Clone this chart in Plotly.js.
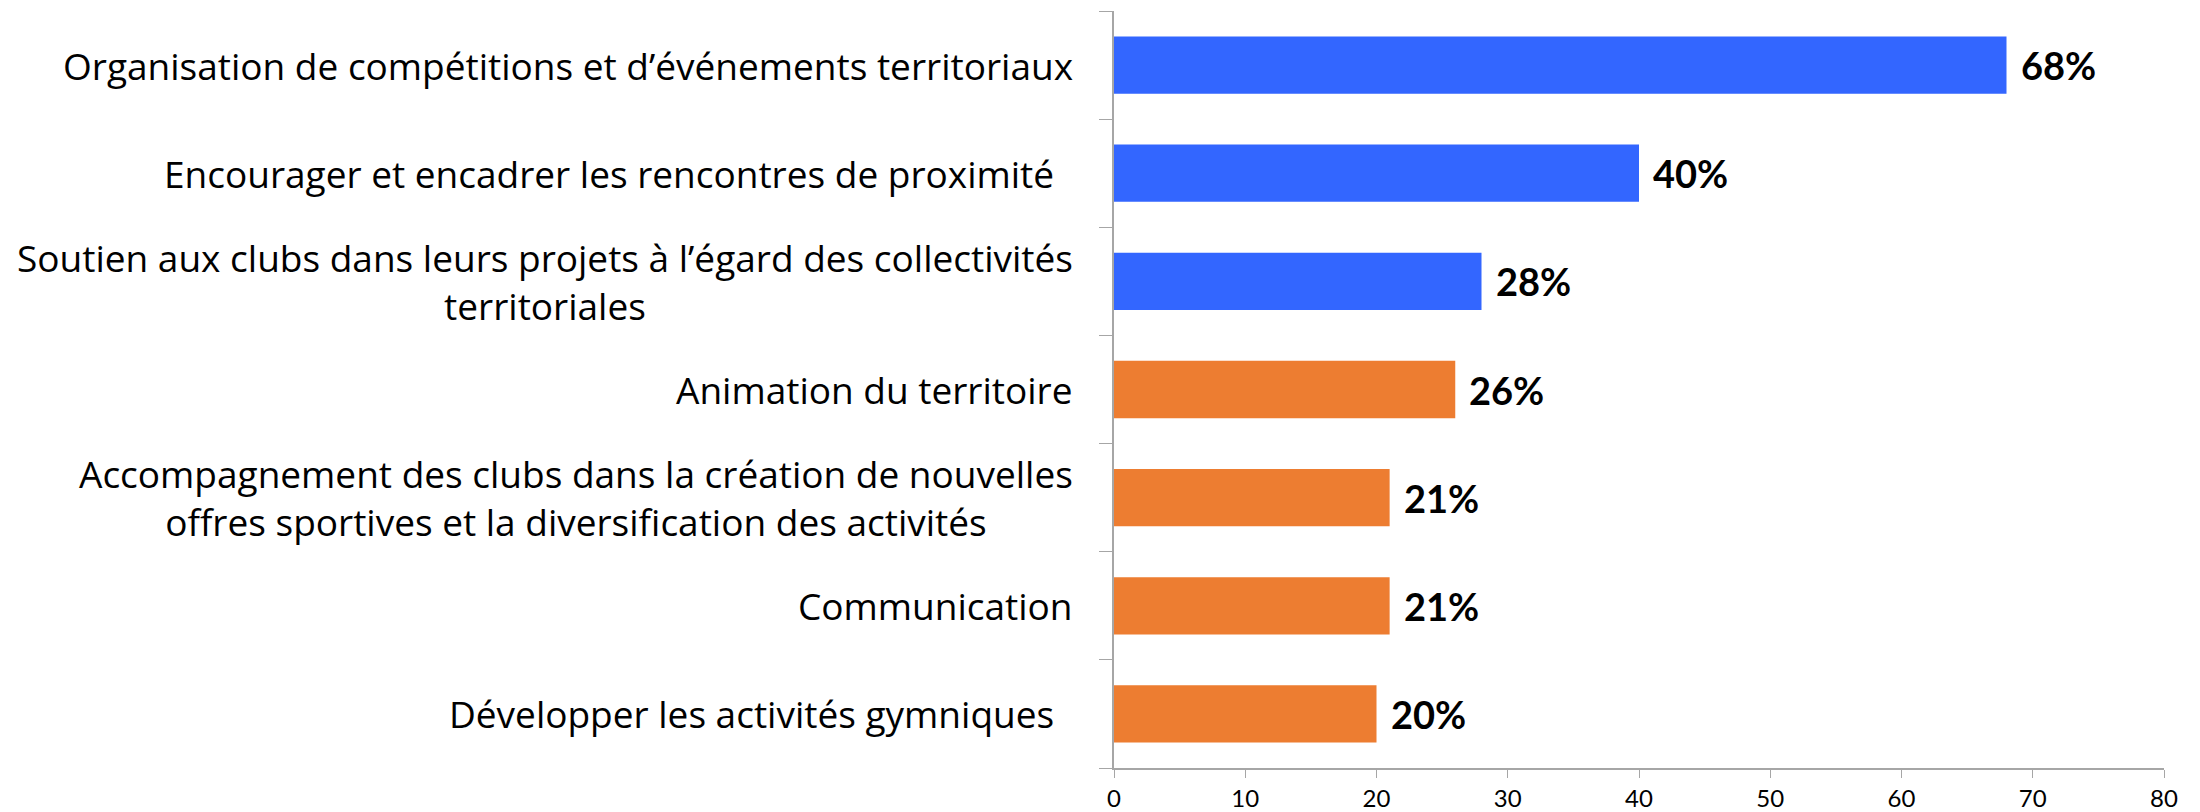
<!DOCTYPE html>
<html>
<head>
<meta charset="utf-8">
<script src="https://cdn.plot.ly/plotly-3.0.1.min.js"></script>
<style>html,body{margin:0;padding:0;background:#fff;}#chart{width:2200px;height:812px;}</style>
</head>
<body>
<div id="chart"></div>
<script>
const categories = [
  "Organisation de compétitions et d’événements territoriaux",
  "Encourager et encadrer les rencontres de proximité\u00A0\u00A0",
  "Soutien aux clubs dans leurs projets à l’égard des collectivités<br>territoriales",
  "Animation du territoire",
  "Accompagnement des clubs dans la création de nouvelles<br>offres sportives et la diversification des activités",
  "Communication",
  "Développer les activités gymniques\u00A0\u00A0"
];
const values = [68, 40, 28, 26, 21, 21, 20];
const valueLabels = ["68%", "40%", "28%", "26%", "21%", "21%", "20%"];
const barColors = ["#3366FF", "#3366FF", "#3366FF", "#ED7D31", "#ED7D31", "#ED7D31", "#ED7D31"];
const xTicks = [0, 10, 20, 30, 40, 50, 60, 70, 80];

const FONT = "'Open Sans', Lato, sans-serif";
const VFONT = "Lato, 'Open Sans', sans-serif";
const idx = categories.map((_, i) => i);

const trace = {
  type: "bar",
  orientation: "h",
  y: idx,
  x: values,
  marker: { color: barColors, line: { width: 0 } },
  hoverinfo: "skip"
};

const annotations = [];
categories.forEach((c, i) => {
  annotations.push({
    xref: "paper", yref: "y", x: 0, y: i,
    text: c, showarrow: false, xanchor: "right", yanchor: "middle",
    align: "center", xshift: -39,
    font: { family: FONT, size: 37, color: "#000" }
  });
  annotations.push({
    xref: "x", yref: "y", x: values[i], y: i,
    text: "<b>" + valueLabels[i] + "</b>", showarrow: false,
    xanchor: "left", yanchor: "middle", xshift: 12,
    font: { family: VFONT, size: 38, color: "#000" }
  });
});

const layout = {
  width: 2200, height: 812,
  margin: { l: 1114, r: 36, t: 11, b: 44, pad: 0 },
  paper_bgcolor: "#fff", plot_bgcolor: "#fff",
  showlegend: false,
  bargap: 0.47,
  xaxis: {
    range: [0, 80], tickvals: xTicks, ticktext: xTicks.map(String),
    showgrid: false, zeroline: false,
    showline: true, linecolor: "#A6A6A6", linewidth: 2,
    ticks: "outside", ticklen: 8, tickcolor: "#A6A6A6", tickwidth: 1,
    tickfont: { family: VFONT, size: 24, color: "#000" },
    fixedrange: true
  },
  yaxis: {
    type: "linear", range: [6.5, -0.5],
    tickvals: [-0.5, 0.5, 1.5, 2.5, 3.5, 4.5, 5.5, 6.5],
    showticklabels: false,
    showgrid: false, zeroline: false,
    showline: true, linecolor: "#A6A6A6", linewidth: 2,
    ticks: "outside", ticklen: 13, tickcolor: "#A6A6A6", tickwidth: 1,
    fixedrange: true
  },
  annotations: annotations
};

Plotly.newPlot("chart", [trace], layout, { staticPlot: true, displayModeBar: false });
</script>
</body>
</html>
